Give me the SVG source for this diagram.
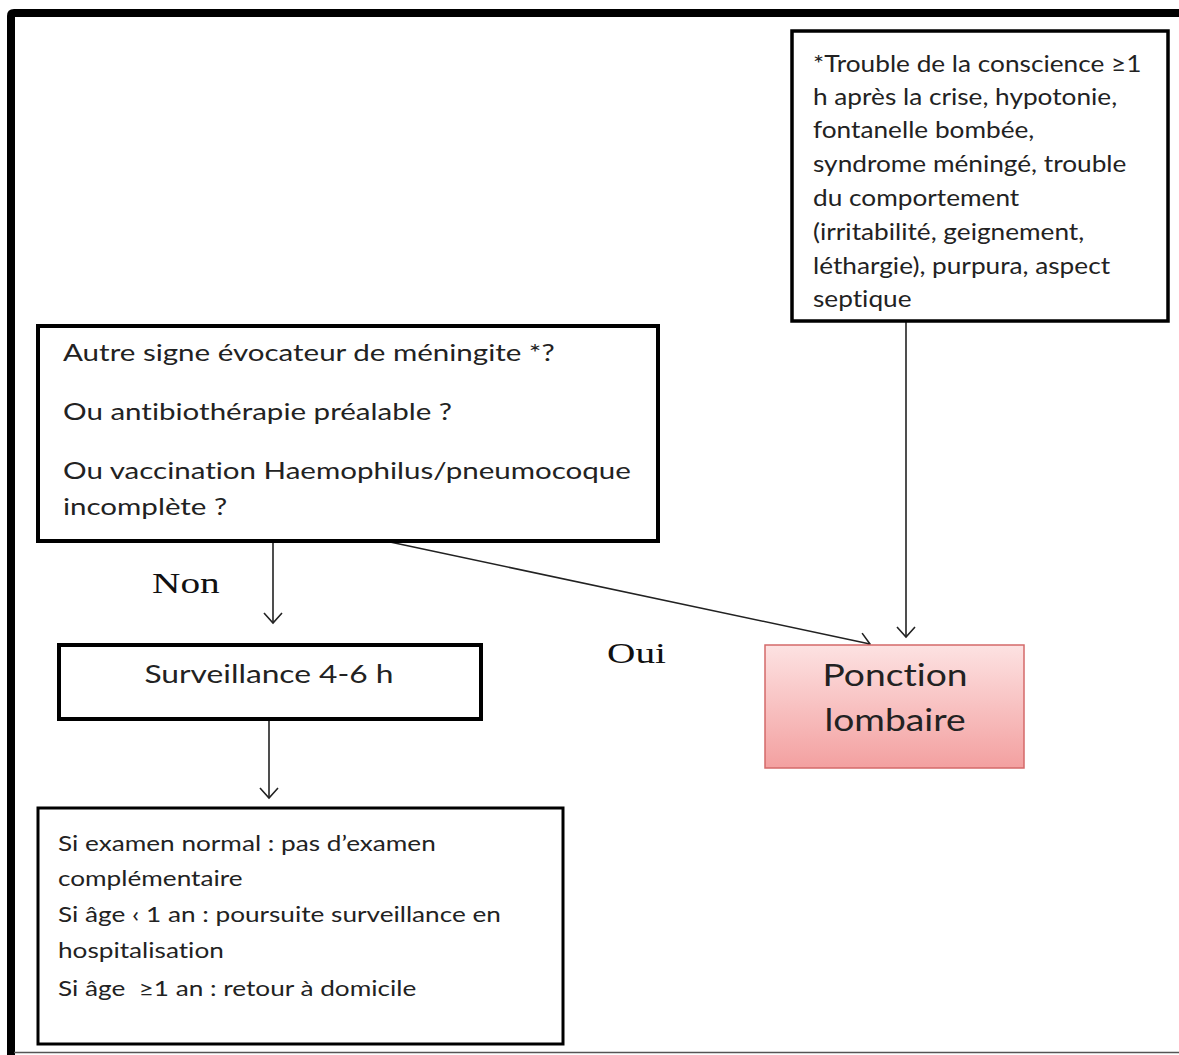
<svg xmlns="http://www.w3.org/2000/svg" width="1179" height="1055" viewBox="0 0 1179 1055">
<defs>
<style>
.box{fill:#fff;stroke:#000}
.t{font-family:Lato,"Open Sans","Liberation Sans",sans-serif;fill:#222;font-variant-ligatures:none;font-feature-settings:"liga" 0}
.s{font-family:"Liberation Serif","Times New Roman",serif;fill:#111;font-size:30px}
.c{stroke:#222;stroke-width:1.6;fill:none}
</style>
<linearGradient id="pink" x1="0" y1="0" x2="0" y2="1">
<stop offset="0" stop-color="#fde2e2"/>
<stop offset="1" stop-color="#f3a0a0"/>
</linearGradient>
<marker id="arr" viewBox="0 0 20 20" refX="18" refY="10" markerWidth="20" markerHeight="20" markerUnits="userSpaceOnUse" orient="auto">
<path d="M8,1 L18,10 L8,19" fill="none" stroke="#222" stroke-width="1.6"/>
</marker>
</defs>
<rect width="1179" height="1055" fill="#fff"/>
<g id="frame">
<path d="M11,1055 L11,16 Q11,13 14,13 L1179,13" fill="none" stroke="#000" stroke-width="8"/>
<line x1="14" y1="1052.5" x2="1179" y2="1052.5" stroke="#555" stroke-width="1.5"/>
</g>
<g id="connectors">
<line class="c" x1="273" y1="543" x2="273" y2="623" marker-end="url(#arr)"/>
<line class="c" x1="390" y1="542" x2="870" y2="644" marker-end="url(#arr)"/>
<line class="c" x1="906" y1="322" x2="906" y2="637" marker-end="url(#arr)"/>
<line class="c" x1="269" y1="721" x2="269" y2="798" marker-end="url(#arr)"/>
<g transform="translate(152,0) scale(1.31,1)"><text class="s" x="0" y="593">Non</text></g>
<g transform="translate(607,0) scale(1.31,1)"><text class="s" x="0" y="663">Oui</text></g>
</g>
<g id="note">
<rect class="box" x="792" y="31" width="376" height="290" stroke-width="3.5"/>
<g transform="translate(813,0) scale(1.14,1)">
<text class="t" font-size="23">
<tspan x="0" y="72">*Trouble de la conscience ≥1</tspan>
<tspan x="0" y="105">h après la crise, hypotonie,</tspan>
<tspan x="0" y="138">fontanelle bombée,</tspan>
<tspan x="0" y="172">syndrome méningé, trouble</tspan>
<tspan x="0" y="206">du comportement</tspan>
<tspan x="0" y="240">(irritabilité, geignement,</tspan>
<tspan x="0" y="274">léthargie), purpura, aspect</tspan>
<tspan x="0" y="307">septique</tspan>
</text>
</g>
</g>
<g id="question">
<rect class="box" x="38" y="326" width="620" height="215" stroke-width="4"/>
<g transform="translate(63,0) scale(1.23,1)">
<text class="t" font-size="24">
<tspan x="0" y="361">Autre signe évocateur de méningite *?</tspan>
<tspan x="0" y="420">Ou antibiothérapie préalable ?</tspan>
<tspan x="0" y="479">Ou vaccination Haemophilus/pneumocoque</tspan>
<tspan x="0" y="515">incomplète ?</tspan>
</text>
</g>
</g>
<g id="surveillance">
<rect class="box" x="59" y="645" width="422" height="74" stroke-width="4"/>
<g transform="translate(269,0) scale(1.27,1)">
<text class="t" font-size="25" x="0" y="683" text-anchor="middle">Surveillance 4-6 h</text>
</g>
</g>
<g id="ponction">
<rect x="765" y="645" width="259" height="123" fill="url(#pink)" stroke="#d46a6a" stroke-width="1.5"/>
<g transform="translate(895,0) scale(1.2,1)">
<text class="t" font-size="31" fill="#111" x="0" y="686" text-anchor="middle">Ponction</text>
<text class="t" font-size="31" fill="#111" x="0" y="731" text-anchor="middle">lombaire</text>
</g>
</g>
<g id="result">
<rect class="box" x="38" y="808" width="525" height="236" stroke-width="3"/>
<g transform="translate(58,0) scale(1.19,1)">
<text class="t" font-size="22">
<tspan x="0" y="851">Si examen normal : pas d’examen</tspan>
<tspan x="0" y="886">complémentaire</tspan>
<tspan x="0" y="922">Si âge ‹ 1 an : poursuite surveillance en</tspan>
<tspan x="0" y="958">hospitalisation</tspan>
<tspan x="0" y="996">Si âge&#160; ≥1 an : retour à domicile</tspan>
</text>
</g>
</g>
</svg>
